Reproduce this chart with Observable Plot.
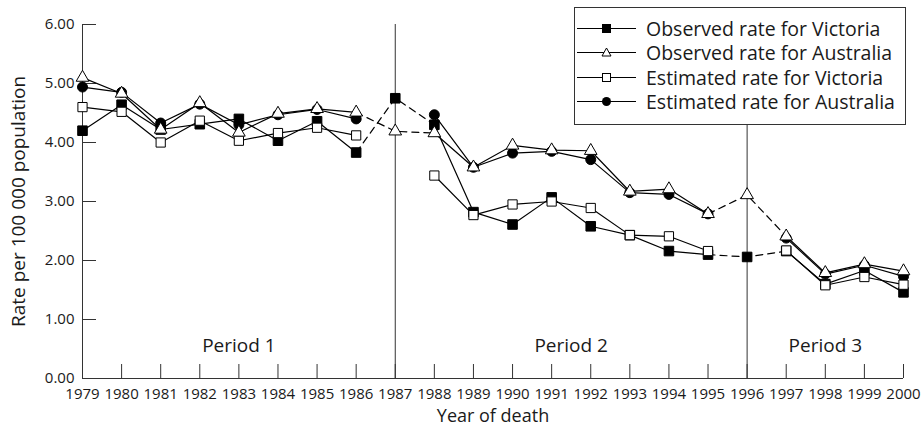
<!DOCTYPE html>
<html><head><meta charset="utf-8">
<script src="https://cdn.jsdelivr.net/npm/d3@7"></script>
<script src="https://cdn.jsdelivr.net/npm/@observablehq/plot@0.6"></script>
<style>
body{margin:0;background:#fff;}
#wrap{position:relative;width:921px;height:429px;font-family:"Open Sans",sans-serif;color:#1a1a1a;}
#legend{position:absolute;left:574px;top:7px;width:332px;height:118px;box-sizing:border-box;border:1px solid #333;background:#fff;}
.row{position:absolute;left:0;height:24px;display:flex;align-items:center;font-size:19.5px;white-space:nowrap;}
.row svg{margin-left:2px;margin-right:10px;}
</style></head><body><div id="wrap"></div>
<script>
const years = [1979,1980,1981,1982,1983,1984,1985,1986,1987,1988,1989,1990,1991,1992,1993,1994,1995,1996,1997,1998,1999,2000];
const obsVic = [4.20,4.64,4.22,4.31,4.40,4.03,4.36,3.83,4.75,4.30,2.82,2.61,3.07,2.58,2.43,2.16,2.10,2.06,2.16,1.60,1.83,1.46];
const obsAus = [5.10,4.83,4.22,4.67,4.17,4.49,4.57,4.51,4.19,4.16,3.58,3.95,3.87,3.86,3.17,3.21,2.79,3.11,2.41,1.79,1.94,1.82];
const estVic = [4.60,4.52,4.00,4.37,4.03,4.16,4.25,4.12,null,3.44,2.77,2.95,3.00,2.89,2.43,2.41,2.16,null,2.17,1.58,1.72,1.59];
const estAus = [4.94,4.85,4.33,4.65,4.30,4.47,4.56,4.40,null,4.47,3.58,3.82,3.85,3.71,3.15,3.12,2.79,null,2.38,1.77,1.92,1.73];
const seriesNames = ["Observed rate for Victoria","Observed rate for Australia","Estimated rate for Victoria","Estimated rate for Australia"];
const periodBounds = [1979,1987,1996,2000];
const periodLabels = ["Period 1","Period 2","Period 3"];
const yTicks = [0,1,2,3,4,5,6];
const yLabel = "Rate per 100 000 population";
const xLabel = "Year of death";

const W = 921, H = 429, mL = 82, mR = 18, mT = 24, mB = 51;
const styles = [
  {symbol:"square", fill:"black", r:5.4, observed:true},
  {symbol:"triangle", fill:"white", r:4.7, observed:true},
  {symbol:"square", fill:"white", r:5.2, observed:false},
  {symbol:"circle", fill:"black", r:5.0, observed:false}
];
const values = [obsVic, obsAus, estVic, estAus];
const series = seriesNames.map((name,i)=>({name, values: values[i], ...styles[i]}));

const periodOf = y => y < periodBounds[1] ? 0 : (y > periodBounds[1] && y < periodBounds[2]) ? 1 : y > periodBounds[2] ? 2 : -1;
const solid = [], dashed = [], pts = [];
series.forEach((s,si)=>{
  years.forEach((yr,i)=>{
    const v = s.values[i];
    if (v == null) return;
    const p = {year: yr, value: v, si};
    pts.push(p);
    const per = periodOf(yr);
    if (per >= 0) solid.push({...p, key: si + "-" + per});
    if (s.observed) {
      [1,2].forEach(b=>{
        const c = periodBounds[b];
        if (yr >= c-1 && yr <= c+1) dashed.push({...p, key: si + "-g" + b});
      });
    }
  });
});

const pxPerX = (W - mL - mR) / (years[years.length-1] - years[0]);
const pxPerY = (H - mT - mB) / (yTicks[yTicks.length-1] - yTicks[0]);
const tickLen = 14;

const periodData = periodLabels.map((t,i)=>({t, x:(periodBounds[i]+periodBounds[i+1])/2}));

const dotMark = si => {
  const s = series[si];
  return Plot.dot(pts.filter(d=>d.si===si), {x:"year", y:"value", symbol: s.symbol, r: s.r, fill: s.fill, stroke:"black", strokeWidth:1});
};

const chart = Plot.plot({
  width: W, height: H, marginLeft: mL, marginRight: mR, marginTop: mT, marginBottom: mB,
  style: {fontFamily: "'Open Sans', sans-serif", fontSize: "15px", color: "#1a1a1a", background: "white"},
  x: {domain: [years[0], years[years.length-1]]},
  y: {domain: [yTicks[0], yTicks[yTicks.length-1]]},
  marks: [
    Plot.ruleX(periodBounds.slice(1,3), {y1: yTicks[0], y2: yTicks[yTicks.length-1], stroke:"#333", strokeWidth:1}),
    Plot.ruleX([years[0]], {y1: yTicks[0], y2: yTicks[yTicks.length-1], stroke:"#333"}),
    Plot.ruleY([0], {x1: years[0], x2: years[years.length-1], stroke:"#333"}),
    Plot.ruleY(yTicks, {x1: years[0], x2: years[0] + tickLen/pxPerX, stroke:"#333"}),
    Plot.ruleX(years, {y1: 0, y2: tickLen/pxPerY, stroke:"#333"}),
    Plot.axisX({ticks: years, tickSize: 0, tickPadding: 10, tickFormat: d=>String(d), label: null}),
    Plot.axisY({ticks: yTicks, tickSize: 0, tickPadding: 8, tickFormat: d=>d.toFixed(2), label: null}),
    Plot.text([yLabel], {frameAnchor:"left", textAnchor:"middle", rotate:-90, dx:-64, fontSize:19, fill:"#1a1a1a"}),
    Plot.text([xLabel], {frameAnchor:"bottom", dy:43, fontSize:18, fill:"#1a1a1a"}),
    Plot.text(periodData, {x:"x", frameAnchor:"bottom", dy:-27, text:"t", fontSize:19, fill:"#1a1a1a"}),
    Plot.line(solid, {x:"year", y:"value", z:"key", stroke:"black", strokeWidth:1.2}),
    Plot.line(dashed, {x:"year", y:"value", z:"key", stroke:"black", strokeWidth:1.2, strokeDasharray:"7,5"}),
    dotMark(3), dotMark(0), dotMark(2), dotMark(1)
  ]
});
const wrap = document.getElementById("wrap");
wrap.appendChild(chart);

// legend
const legend = document.createElement("div");
legend.id = "legend";
const symSvg = s => {
  let shape;
  if (s.symbol === "square") shape = `<rect x="25.5" y="7.5" width="8" height="8" fill="${s.fill}" stroke="black"/>`;
  else if (s.symbol === "circle") shape = `<circle cx="29.5" cy="11.5" r="4.5" fill="black"/>`;
  else shape = `<path d="M29.5,7 L34,15 L25,15 Z" fill="white" stroke="black"/>`;
  return `<svg width="59" height="23" viewBox="0 0 59 23"><line x1="0" x2="59" y1="11.5" y2="11.5" stroke="black" stroke-width="1.2"/>${shape}</svg>`;
};
series.forEach((s,i)=>{
  const row = document.createElement("div");
  row.className = "row";
  row.style.top = (8 + i*24.6) + "px";
  row.innerHTML = symSvg(s) + `<span>${s.name}</span>`;
  legend.appendChild(row);
});
wrap.appendChild(legend);
</script>
</body></html>
